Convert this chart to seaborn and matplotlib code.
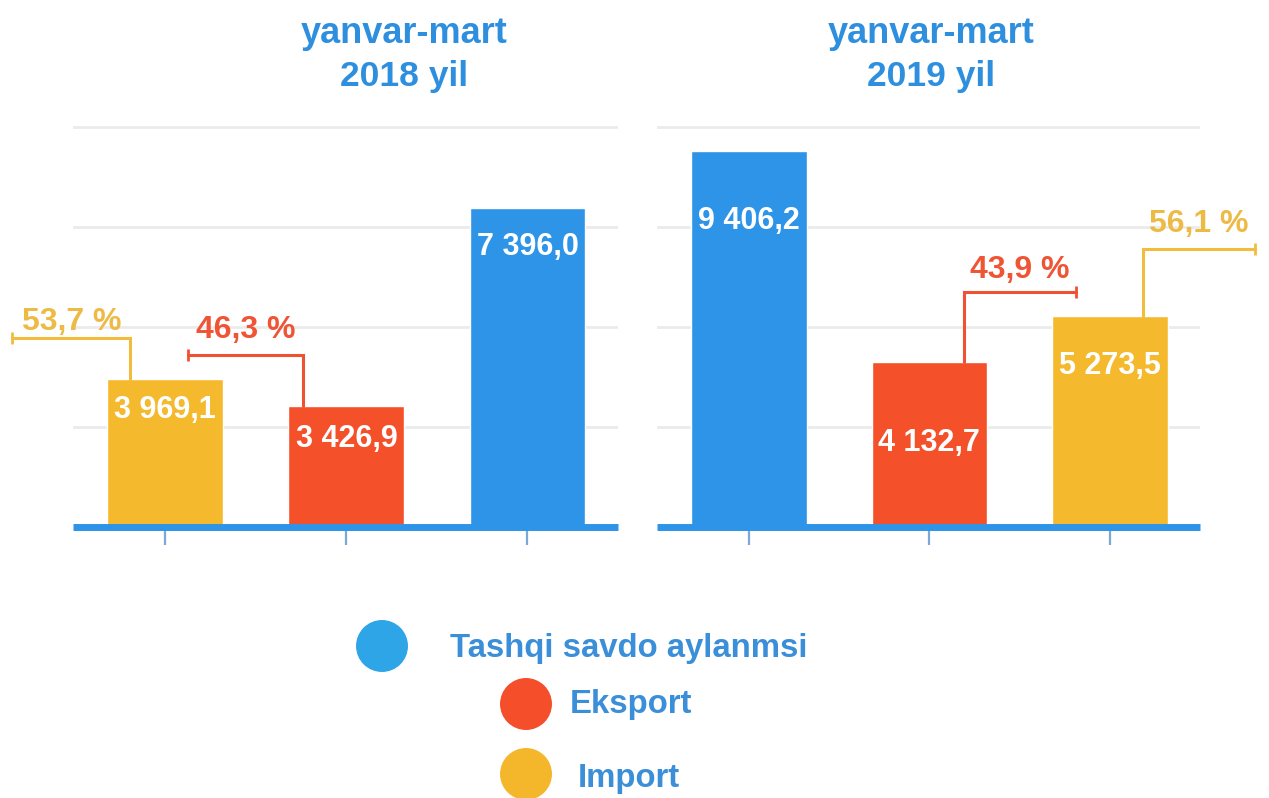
import matplotlib
matplotlib.use('Agg')
import matplotlib.pyplot as plt
import seaborn as sns

# Data (mln. AQSh dollari)
categories_2018 = ['Import', 'Eksport', 'Tashqi savdo aylanmsi']
values_2018 = [3969.1, 3426.9, 7396.0]
categories_2019 = ['Tashqi savdo aylanmsi', 'Eksport', 'Import']
values_2019 = [9406.2, 4132.7, 5273.5]
titles = ['yanvar-mart', '2018 yil', '2019 yil']
legend_labels = ['Tashqi savdo aylanmsi', 'Eksport', 'Import']

# Colours
bar_colors = {'Tashqi savdo aylanmsi': '#2E94E8', 'Eksport': '#F4502A', 'Import': '#F5B92D'}
dot_colors = {'Tashqi savdo aylanmsi': '#2EA5E6', 'Eksport': '#F44F2A', 'Import': '#F4B72C'}
pct_colors = {'Eksport': '#EF5435', 'Import': '#EDBB45'}
line_colors = {'Eksport': '#EF5232', 'Import': '#F2BC3C'}
title_color = '#2F8FDF'
legend_text_color = '#3B8ED8'

sns.set_theme(style='white')
plt.rcParams['font.family'] = ['Liberation Sans', 'DejaVu Sans']
plt.rcParams['font.weight'] = 'bold'

W, H = 1269, 798
fig = plt.figure(figsize=(W / 100, H / 100), dpi=100)


def fmt(v):
    return f'{v:,.1f}'.replace(',', ' ').replace('.', ',')


def fmt_pct(v):
    return f'{v:.1f}'.replace('.', ',') + ' %'


def draw_panel(rect, cats, vals, ylim, gridticks, label_offsets, connectors):
    ax = fig.add_axes(rect)
    sns.barplot(x=cats, y=vals, hue=cats, palette=bar_colors, order=cats,
                width=0.64, saturation=1, legend=False, ax=ax)
    ax.set_xlim(-0.51, 2.50)
    ax.set_ylim(*ylim)
    ax.set_yticks(gridticks)
    ax.set_axisbelow(True)
    ax.grid(axis='y', color='#EBEBEB', linewidth=2)
    ax.grid(axis='x', visible=False)
    ax.tick_params(axis='y', length=0, labelleft=False)
    ax.tick_params(axis='x', length=13, width=1.6, color='#7BA7D9',
                   direction='out', bottom=True, labelbottom=False)
    for s in ['top', 'left', 'right']:
        ax.spines[s].set_visible(False)
    ax.spines['bottom'].set_color('#2E94E8')
    ax.spines['bottom'].set_linewidth(5)
    ax.spines['bottom'].set_capstyle('butt')
    ax.set_xlabel('')
    ax.set_ylabel('')

    # data units per pixel on the y axis
    h_px = ax.get_position().height * H
    upp = (ylim[1] - ylim[0]) / h_px

    total = max(vals)
    for i, (c, v) in enumerate(zip(cats, vals)):
        ax.annotate(fmt(v), xy=(i, v), xytext=(0, -label_offsets[i] * 0.72),
                    textcoords='offset points', ha='center', va='center',
                    color='white', fontsize=22, fontweight='bold')
        if c in connectors:
            dx, rise, run, gap = connectors[c]
            y_el = v + rise * upp
            x0 = i + dx
            x1 = x0 + run
            ax.plot([x0, x0, x1], [v, y_el, y_el], color=line_colors[c],
                    lw=2.2, clip_on=False, solid_joinstyle='miter')
            ax.plot([x1], [y_el], marker='|', markersize=8, mew=2,
                    color=line_colors[c], clip_on=False)
            ax.annotate(fmt_pct(v / total * 100), xy=((x0 + x1) / 2, y_el),
                        xytext=(0, gap * 0.72), textcoords='offset points',
                        ha='center', va='baseline', color=pct_colors[c],
                        fontsize=23, fontweight='bold', annotation_clip=False)
    return ax


bottom = 1 - 527 / H
height = 402 / H

draw_panel([73 / W, bottom, 545 / W, height], categories_2018, values_2018,
           (1000, 9050), [3000, 5000, 7000, 9000], [31, 33, 39.5],
           {'Import': (-0.193, 41, -0.652, 8), 'Eksport': (-0.238, 51, -0.635, 17)})

draw_panel([657 / W, bottom, 543 / W, height], categories_2019, values_2019,
           (0, 10050), [2500, 5000, 7500, 10000], [70, 81, 50],
           {'Eksport': (0.193, 70, 0.619, 14), 'Import': (0.182, 67, 0.625, 17)})

# Titles
for cx, year in [(404, titles[1]), (931, titles[2])]:
    fig.text(cx / W, 1 - 43 / H, titles[0], ha='center', va='baseline',
             color=title_color, fontsize=26, fontweight='bold')
    fig.text(cx / W, 1 - 86 / H, year, ha='center', va='baseline',
             color=title_color, fontsize=25.5, fontweight='bold')

# Legend (staggered, drawn on an overlay axes in pixel coordinates)
lax = fig.add_axes([0, 0, 1, 1])
lax.set_xlim(0, W)
lax.set_ylim(H, 0)
lax.axis('off')
lax.patch.set_alpha(0)
dots_x = [382, 526, 526]
dots_y = [646, 704, 774]
text_pos = [(450, 657), (570, 713), (578, 787)]
sns.scatterplot(x=dots_x, y=dots_y, hue=legend_labels, palette=dot_colors,
                s=1400, linewidth=0, legend=False, ax=lax, clip_on=False)
for lab, (tx, ty) in zip(legend_labels, text_pos):
    lax.text(tx, ty, lab, ha='left', va='baseline', color=legend_text_color,
             fontsize=23.7, fontweight='bold')

plt.savefig('out.png', dpi=100)
